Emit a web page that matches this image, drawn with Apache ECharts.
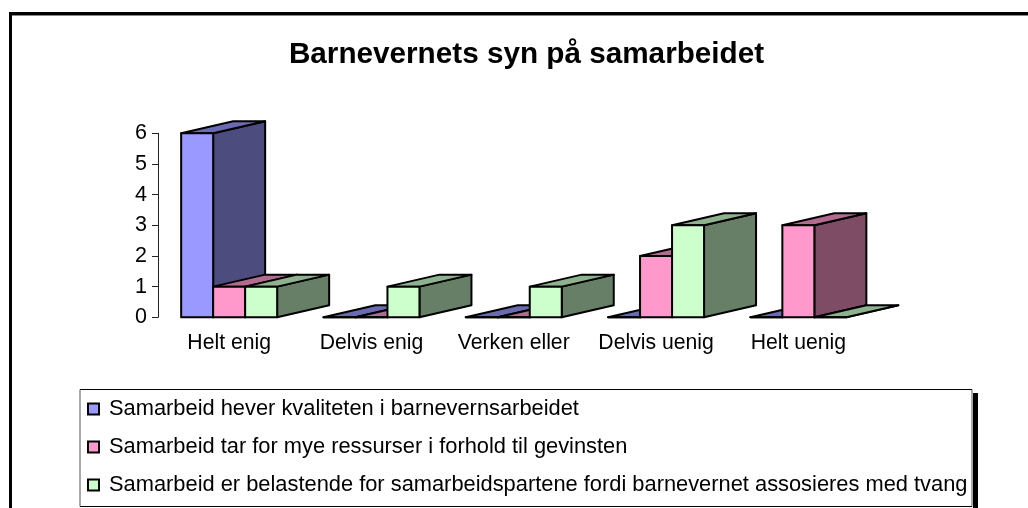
<!DOCTYPE html>
<html><head><meta charset="utf-8">
<style>html,body{margin:0;padding:0;background:#fff}#c{width:1028px;height:508px}</style>
<script src="https://cdn.jsdelivr.net/npm/echarts@6/dist/echarts.min.js"></script>
</head><body><div id="c"></div>
<script>
const titleText = 'Barnevernets syn på samarbeidet';
const categories = ['Helt enig','Delvis enig','Verken eller','Delvis uenig','Helt uenig'];
const seriesNames = [
  'Samarbeid hever kvaliteten i barnevernsarbeidet',
  'Samarbeid tar for mye ressurser i forhold til gevinsten',
  'Samarbeid er belastende for samarbeidspartene fordi barnevernet assosieres med tvang'
];
const kvalitet = [6,0,0,0,0];
const ressurser = [1,0,0,2,3];
const belastende = [1,1,1,3,0];
const frontColors = ['#9999FF','#FF99CC','#CCFFCC'];
const topColors = ['#6B6BB2','#B26B8E','#8EB28E'];
const sideColors = ['#4C4C7F','#7F4C66','#667F66'];
const yTicks = {min:0,max:6,interval:1};
const depthX = 52, depthY = -12, barShare = 32/142.3;

function render3D(si){
  return function(params, api){
    const cat = api.value(0), val = api.value(1);
    const base = api.coord([cat,0]), top = api.coord([cat,val]);
    const w = api.size([1,0])[0]*barShare;
    const x0 = base[0] - 1.5*w + si*w, x1 = x0 + w;
    const y0 = base[1], y1 = top[1];
    const line = {stroke:'#000',lineWidth:2,lineJoin:'round'};
    const poly = (pts,fill)=>({type:'polygon',shape:{points:pts},style:Object.assign({fill},line)});
    return {type:'group',children:[
      poly([[x1,y0],[x1+depthX,y0+depthY],[x1+depthX,y1+depthY],[x1,y1]],sideColors[si]),
      poly([[x0,y1],[x1,y1],[x1+depthX,y1+depthY],[x0+depthX,y1+depthY]],topColors[si]),
      poly([[x0,y0],[x1,y0],[x1,y1],[x0,y1]],frontColors[si])
    ]};
  };
}
const allValues=[kvalitet,ressurser,belastende];
const chart = echarts.init(document.getElementById('c'),null,{renderer:'canvas'});
const font='"Liberation Sans",Arial,sans-serif';
chart.setOption({
  animation:false,
  backgroundColor:'#fff',
  title:{text:titleText,left:521.5,textAlign:'center',top:35,textStyle:{fontFamily:font,fontSize:29.7,fontWeight:'bold',color:'#000'}},
  grid:{left:158,top:133.3,width:711.5,height:184},
  xAxis:{type:'category',data:categories,axisLine:{show:false},axisTick:{show:false},
    axisLabel:{interval:0,margin:15,fontFamily:font,fontSize:21.2,color:'#000'},splitLine:{show:false}},
  yAxis:{type:'value',min:yTicks.min,max:yTicks.max,interval:yTicks.interval,
    axisLine:{show:true,lineStyle:{color:'#222',width:1}},
    axisTick:{show:true,length:6,lineStyle:{color:'#222',width:1}},
    axisLabel:{margin:11,fontFamily:font,fontSize:21.5,color:'#000'},splitLine:{show:false}},
  legend:{orient:'vertical',left:87,top:398,padding:0,itemWidth:11,itemHeight:11,itemGap:16,icon:'rect',
    selectedMode:false,data:seriesNames,
    textStyle:{fontFamily:font,fontSize:21.85,color:'#000',padding:[0,0,0,5]},
    itemStyle:{borderColor:'#000',borderWidth:2}},
  graphic:[
    {type:'rect',z:-4,shape:{x:9,y:12,width:1019,height:3},style:{fill:'#000'}},
    {type:'rect',z:-4,shape:{x:9,y:15,width:1019,height:1},style:{fill:'#888'}},
    {type:'rect',z:-4,shape:{x:9,y:12,width:3,height:496},style:{fill:'#000'}},
    {type:'rect',z:-3,shape:{x:973,y:393,width:5,height:115},style:{fill:'#000'}},
    {type:'rect',z:-2,shape:{x:80,y:389.5,width:892,height:117},style:{fill:'#fff',stroke:'#555',lineWidth:1}},
    {type:'rect',z:-1,shape:{x:80,y:389,width:892,height:1},style:{fill:'#000'}},
    {type:'rect',z:-1,shape:{x:80,y:506,width:892,height:1},style:{fill:'#000'}}
  ],
  series:seriesNames.map((name,si)=>({
    type:'custom',name,renderItem:render3D(si),
    itemStyle:{color:frontColors[si]},
    encode:{x:0,y:1},
    data:allValues[si].map((v,i)=>[i,v])
  }))
});
</script></body></html>
